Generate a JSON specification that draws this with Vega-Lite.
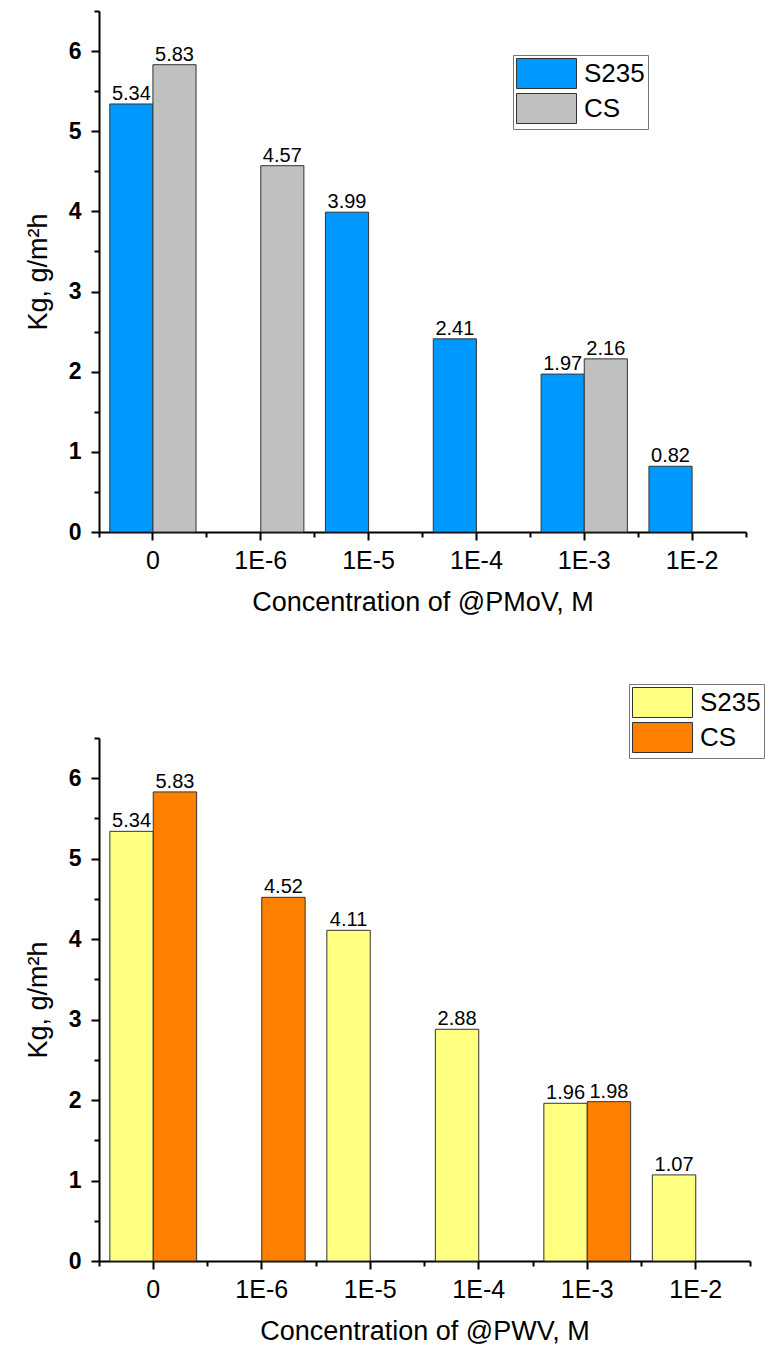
{
  "$schema": "https://vega.github.io/schema/vega-lite/v6.json",
  "padding": {"left": 24, "top": 10, "right": 5, "bottom": 5},
  "spacing": 68,
  "background": "white",
  "config": {
    "view": {"stroke": null},
    "font": "Liberation Sans",
    "axis": {
      "grid": false,
      "domainColor": "black",
      "domainWidth": 2,
      "tickColor": "black",
      "tickWidth": 2,
      "labelColor": "black",
      "titleColor": "black",
      "labelFont": "Liberation Sans",
      "titleFont": "Liberation Sans",
      "titleFontWeight": "normal"
    }
  },
  "resolve": {"scale": {"color": "independent", "x": "independent", "y": "independent", "xOffset": "independent"}},
  "datasets": {
    "pmov": [
      {"conc": "0", "steel": "S235", "kg": 5.34},
      {"conc": "0", "steel": "CS", "kg": 5.83},
      {"conc": "1E-6", "steel": "CS", "kg": 4.57},
      {"conc": "1E-5", "steel": "S235", "kg": 3.99},
      {"conc": "1E-4", "steel": "S235", "kg": 2.41},
      {"conc": "1E-3", "steel": "S235", "kg": 1.97},
      {"conc": "1E-3", "steel": "CS", "kg": 2.16},
      {"conc": "1E-2", "steel": "S235", "kg": 0.82}
    ],
    "pwv": [
      {"conc": "0", "steel": "S235", "kg": 5.34},
      {"conc": "0", "steel": "CS", "kg": 5.83},
      {"conc": "1E-6", "steel": "CS", "kg": 4.52},
      {"conc": "1E-5", "steel": "S235", "kg": 4.11},
      {"conc": "1E-4", "steel": "S235", "kg": 2.88},
      {"conc": "1E-3", "steel": "S235", "kg": 1.96},
      {"conc": "1E-3", "steel": "CS", "kg": 1.98},
      {"conc": "1E-2", "steel": "S235", "kg": 1.07}
    ]
  },
  "vconcat": [
    {
      "width": 647,
      "height": 521,
      "data": {"name": "pmov"},
      "resolve": {"axis": {"x": "independent", "y": "independent"}},
      "layer": [
        {
          "mark": {"type": "bar", "stroke": "#333333", "strokeWidth": 1},
          "encoding": {
            "x": {
              "field": "conc", "type": "nominal", "sort": ["0", "1E-6", "1E-5", "1E-4", "1E-3", "1E-2"],
              "scale": {"domain": ["0", "1E-6", "1E-5", "1E-4", "1E-3", "1E-2"], "paddingInner": 0, "paddingOuter": 0},
              "axis": {"orient": "bottom", "title": "Concentration of @PMoV, M", "labelAngle": 0, "labelFontSize": 25, "tickSize": 8, "labelPadding": 8, "titleFontSize": 27, "titlePadding": 16}
            },
            "xOffset": {"field": "steel", "type": "nominal", "scale": {"domain": ["S235", "CS"], "paddingInner": 0, "paddingOuter": 0.25}},
            "y": {
              "field": "kg", "type": "quantitative",
              "scale": {"domain": [0, 6.5], "nice": false},
              "axis": {"orient": "left", "title": "Kg, g/m²h", "values": [0, 1, 2, 3, 4, 5, 6], "labelFontSize": 23, "labelFontWeight": "bold", "tickSize": 8, "labelPadding": 10, "titleFontSize": 27, "titlePadding": 16}
            },
            "color": {
              "field": "steel", "type": "nominal",
              "scale": {"domain": ["S235", "CS"], "range": ["#0099FF", "#C0C0C0"]},
              "legend": {
                "orient": "none", "legendX": 414, "legendY": 44, "title": null,
                "symbolType": "M-1,-1H3V1H-1Z", "symbolSize": 900,
                "symbolStrokeColor": "#333333", "symbolStrokeWidth": 1, "symbolOpacity": 1,
                "labelFontSize": 26, "labelFont": "Liberation Sans", "labelColor": "black", "labelOffset": 37,
                "rowPadding": 0, "padding": 3, "strokeColor": "#777777", "fillColor": "white"
              }
            }
          }
        },
        {
          "mark": {"type": "text", "baseline": "alphabetic", "dy": -4, "fontSize": 20, "color": "black"},
          "encoding": {
            "x": {
              "field": "conc", "type": "nominal", "sort": ["0", "1E-6", "1E-5", "1E-4", "1E-3", "1E-2"],
              "scale": {"domain": ["0", "1E-6", "1E-5", "1E-4", "1E-3", "1E-2"], "paddingInner": 0, "paddingOuter": 0},
              "axis": {"orient": "bottom", "title": null, "labels": false, "domain": false, "tickSize": 5, "bandPosition": 1, "tickExtra": true}
            },
            "xOffset": {"field": "steel", "type": "nominal", "scale": {"domain": ["S235", "CS"], "paddingInner": 0, "paddingOuter": 0.25}},
            "y": {
              "field": "kg", "type": "quantitative",
              "scale": {"domain": [0, 6.5], "nice": false},
              "axis": {"orient": "left", "title": null, "labels": false, "domain": false, "tickSize": 5, "values": [0.5, 1.5, 2.5, 3.5, 4.5, 5.5, 6.5]}
            },
            "text": {"field": "kg", "type": "quantitative", "format": ".2f"}
          }
        }
      ]
    },
    {
      "width": 651,
      "height": 523,
      "data": {"name": "pwv"},
      "resolve": {"axis": {"x": "independent", "y": "independent"}},
      "layer": [
        {
          "mark": {"type": "bar", "stroke": "#333333", "strokeWidth": 1},
          "encoding": {
            "x": {
              "field": "conc", "type": "nominal", "sort": ["0", "1E-6", "1E-5", "1E-4", "1E-3", "1E-2"],
              "scale": {"domain": ["0", "1E-6", "1E-5", "1E-4", "1E-3", "1E-2"], "paddingInner": 0, "paddingOuter": 0},
              "axis": {"orient": "bottom", "title": "Concentration of @PWV, M", "labelAngle": 0, "labelFontSize": 25, "tickSize": 8, "labelPadding": 8, "titleFontSize": 27, "titlePadding": 16}
            },
            "xOffset": {"field": "steel", "type": "nominal", "scale": {"domain": ["S235", "CS"], "paddingInner": 0, "paddingOuter": 0.25}},
            "y": {
              "field": "kg", "type": "quantitative",
              "scale": {"domain": [0, 6.5], "nice": false},
              "axis": {"orient": "left", "title": "Kg, g/m²h", "values": [0, 1, 2, 3, 4, 5, 6], "labelFontSize": 23, "labelFontWeight": "bold", "tickSize": 8, "labelPadding": 10, "titleFontSize": 27, "titlePadding": 16}
            },
            "color": {
              "field": "steel", "type": "nominal",
              "scale": {"domain": ["S235", "CS"], "range": ["#FFFF80", "#FF8000"]},
              "legend": {
                "orient": "none", "legendX": 530, "legendY": -54, "title": null,
                "symbolType": "M-1,-1H3V1H-1Z", "symbolSize": 900,
                "symbolStrokeColor": "#333333", "symbolStrokeWidth": 1, "symbolOpacity": 1,
                "labelFontSize": 26, "labelFont": "Liberation Sans", "labelColor": "black", "labelOffset": 37,
                "rowPadding": 0, "padding": 3, "strokeColor": "#777777", "fillColor": "white"
              }
            }
          }
        },
        {
          "mark": {"type": "text", "baseline": "alphabetic", "dy": -4, "fontSize": 20, "color": "black"},
          "encoding": {
            "x": {
              "field": "conc", "type": "nominal", "sort": ["0", "1E-6", "1E-5", "1E-4", "1E-3", "1E-2"],
              "scale": {"domain": ["0", "1E-6", "1E-5", "1E-4", "1E-3", "1E-2"], "paddingInner": 0, "paddingOuter": 0},
              "axis": {"orient": "bottom", "title": null, "labels": false, "domain": false, "tickSize": 5, "bandPosition": 1, "tickExtra": true}
            },
            "xOffset": {"field": "steel", "type": "nominal", "scale": {"domain": ["S235", "CS"], "paddingInner": 0, "paddingOuter": 0.25}},
            "y": {
              "field": "kg", "type": "quantitative",
              "scale": {"domain": [0, 6.5], "nice": false},
              "axis": {"orient": "left", "title": null, "labels": false, "domain": false, "tickSize": 5, "values": [0.5, 1.5, 2.5, 3.5, 4.5, 5.5, 6.5]}
            },
            "text": {"field": "kg", "type": "quantitative", "format": ".2f"}
          }
        }
      ]
    }
  ]
}
